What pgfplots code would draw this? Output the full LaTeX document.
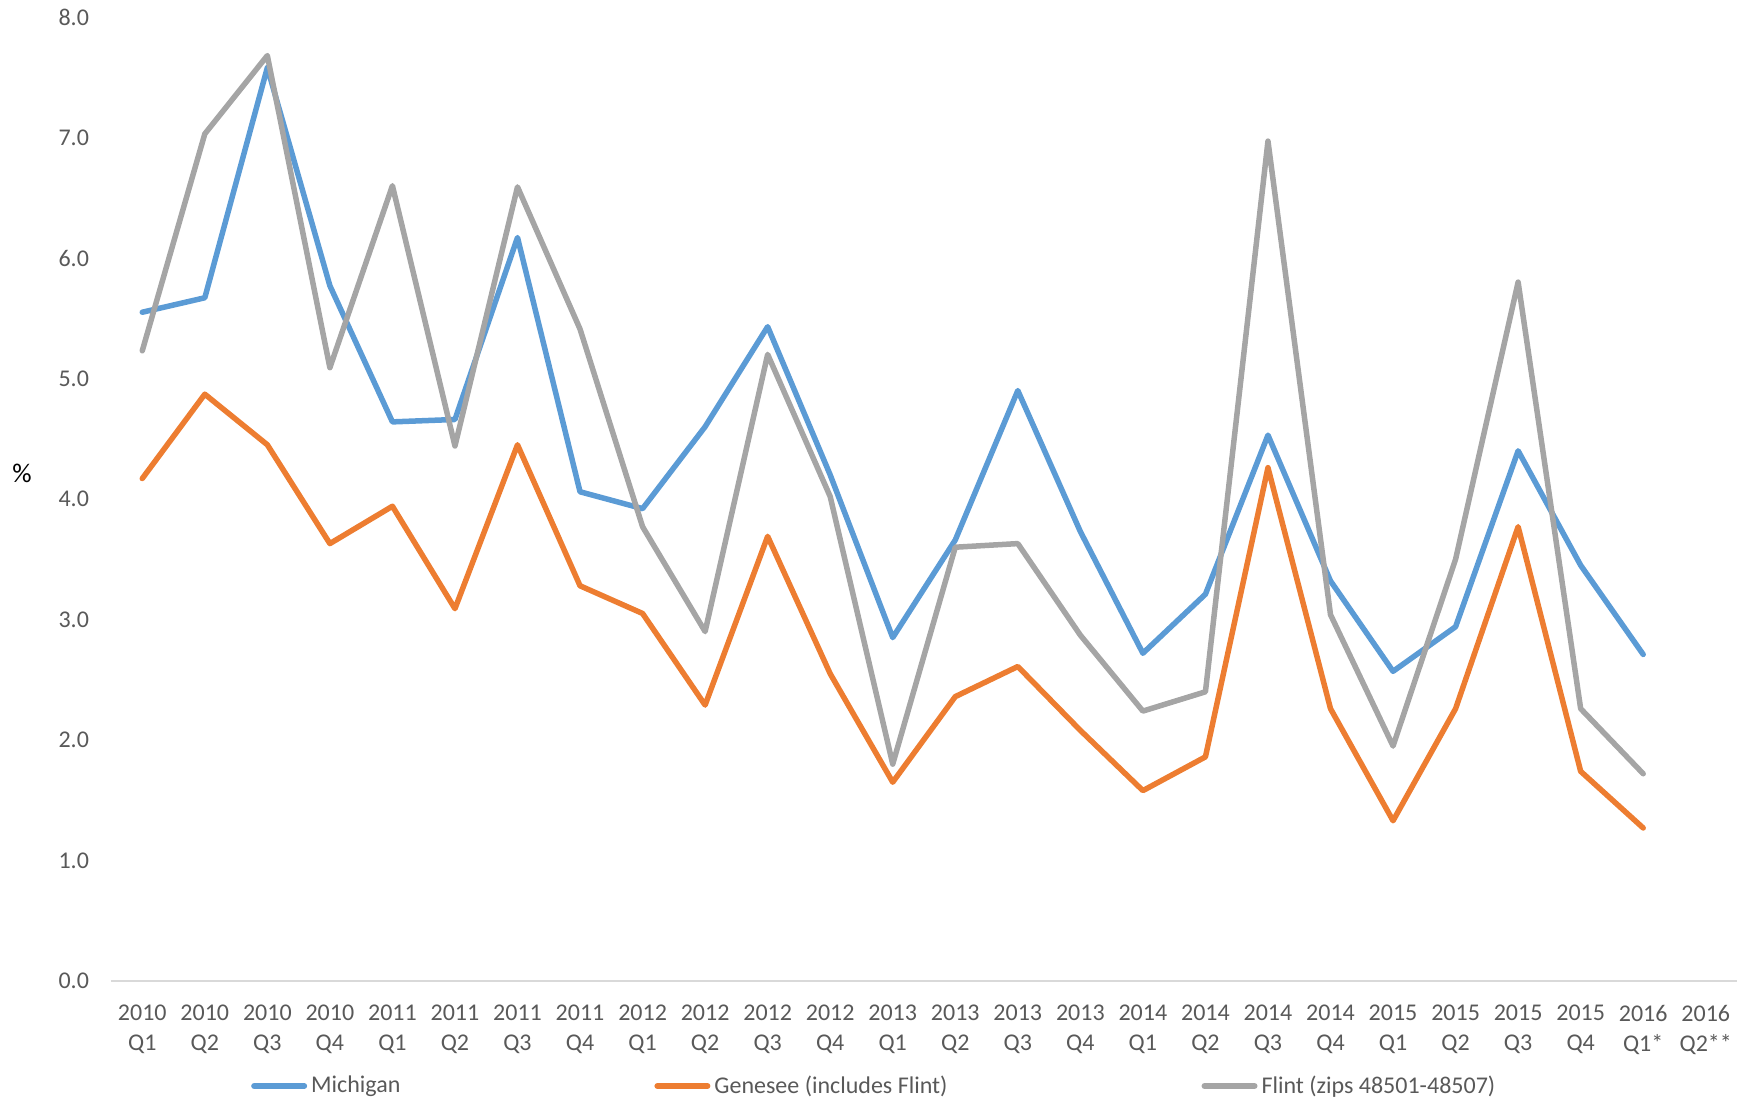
\documentclass[border=0pt]{standalone}
\usepackage{pgfplots}
\pgfplotsset{compat=1.18}
\usepackage{fontspec}
\setmainfont{Carlito}
\definecolor{mich}{HTML}{5B9BD5}
\definecolor{gen}{HTML}{ED7D31}
\definecolor{fli}{HTML}{A5A5A5}
\definecolor{ticktxt}{HTML}{595959}
\definecolor{axline}{HTML}{D9D9D9}
\begin{document}
\begin{tikzpicture}
\useasboundingbox (-55.5pt,-59.5pt) rectangle (817pt,490.5pt);
\begin{axis}[
  scale only axis,
  width=813pt, height=482pt,
  xmin=-0.5, xmax=25.5,
  ymin=0, ymax=8,
  ytick={0,1,...,8},
  xtick={0,...,25},
  xticklabels={{2010\\Q1},{2010\\Q2},{2010\\Q3},{2010\\Q4},
               {2011\\Q1},{2011\\Q2},{2011\\Q3},{2011\\Q4},
               {2012\\Q1},{2012\\Q2},{2012\\Q3},{2012\\Q4},
               {2013\\Q1},{2013\\Q2},{2013\\Q3},{2013\\Q4},
               {2014\\Q1},{2014\\Q2},{2014\\Q3},{2014\\Q4},
               {2015\\Q1},{2015\\Q2},{2015\\Q3},{2015\\Q4},
               {2016\\Q1*},{2016\\Q2**}},
  axis y line*=left,
  axis x line*=bottom,
  x axis line style={draw=axline, line width=1pt, -},
  y axis line style={draw=none, -},
  major tick length=0pt,
  yticklabel style={font=\fontsize{12}{14}\selectfont, text=ticktxt, xshift=-7.5pt},
  xticklabel style={font=\fontsize{12}{15}\selectfont, text=ticktxt, align=center, yshift=-8.5pt},
  /pgf/number format/assume math mode=true,
  yticklabel={\pgfmathprintnumber[fixed,fixed zerofill,precision=1]{\tick}},
  ylabel={\%},
  ylabel style={rotate=-90, at={(axis description cs:0,0.527)}, anchor=center, xshift=-44.5pt, font=\fontsize{13.5}{15}\selectfont, text=black},
  legend columns=-1,
  legend style={at={(axis description cs:0.47,0)}, anchor=center, yshift=-52.5pt,
    draw=none, fill=none, font=\fontsize{12}{14}\selectfont, text=ticktxt,
    /tikz/every even column/.append style={column sep=125pt},
    nodes={inner sep=2pt}},
  legend image code/.code={\draw[#1, line width=3pt, line cap=round] (0pt,0pt) -- (25pt,0pt);},
  every axis plot/.append style={line width=2.75pt, line join=round, line cap=round},
  clip=false,
]
\addplot[mich] coordinates {
(0,5.55) (1,5.67) (2,7.58) (3,5.77) (4,4.64) (5,4.66) (6,6.17) (7,4.06)
(8,3.92) (9,4.60) (10,5.43) (11,4.20) (12,2.85) (13,3.66) (14,4.90) (15,3.73)
(16,2.72) (17,3.21) (18,4.53) (19,3.32) (20,2.57) (21,2.94) (22,4.40) (23,3.45)
(24,2.71)};
\addlegendentry{Michigan}
\addplot[gen] coordinates {
(0,4.17) (1,4.87) (2,4.45) (3,3.63) (4,3.94) (5,3.09) (6,4.45) (7,3.28)
(8,3.05) (9,2.29) (10,3.69) (11,2.55) (12,1.65) (13,2.36) (14,2.61) (15,2.08)
(16,1.58) (17,1.86) (18,4.26) (19,2.26) (20,1.33) (21,2.26) (22,3.77) (23,1.74)
(24,1.27)};
\addlegendentry{Genesee (includes Flint)}
\addplot[fli] coordinates {
(0,5.23) (1,7.03) (2,7.68) (3,5.09) (4,6.60) (5,4.44) (6,6.59) (7,5.41)
(8,3.77) (9,2.90) (10,5.20) (11,4.02) (12,1.80) (13,3.60) (14,3.63) (15,2.87)
(16,2.24) (17,2.40) (18,6.97) (19,3.04) (20,1.95) (21,3.50) (22,5.80) (23,2.26)
(24,1.72)};
\addlegendentry{Flint (zips 48501-48507)}
\end{axis}
\end{tikzpicture}
\end{document}
